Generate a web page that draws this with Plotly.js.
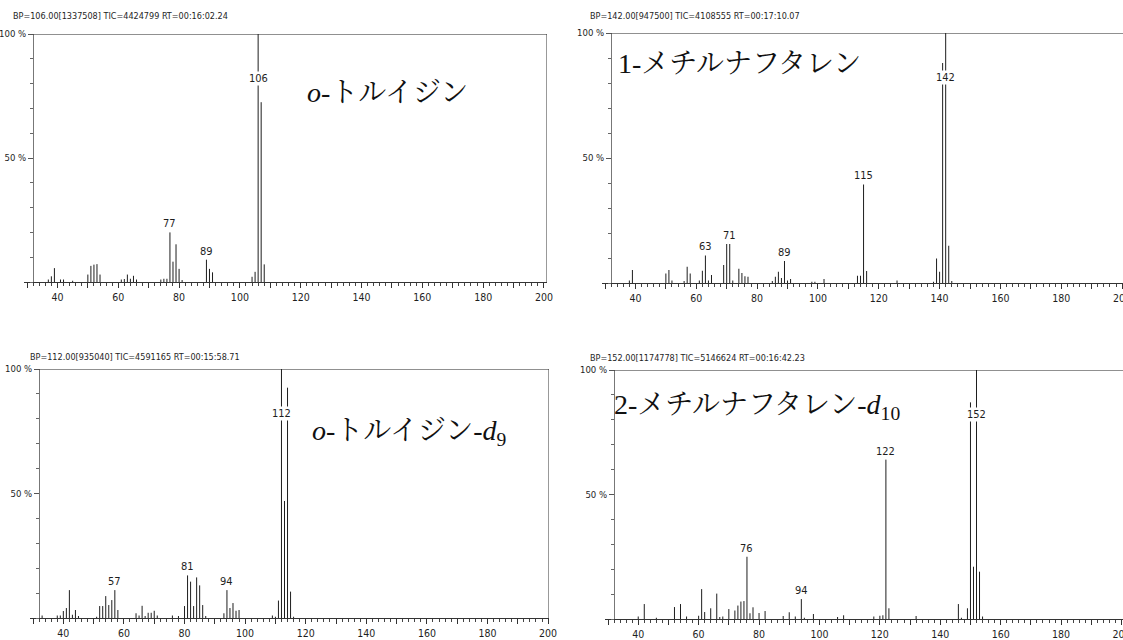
<!DOCTYPE html>
<html>
<head>
<meta charset="utf-8">
<script src="https://cdn.plot.ly/plotly-3.0.1.min.js"></script>
<style>
  html, body { margin: 0; padding: 0; background: #fff; }
  #chart { width: 1123px; height: 640px; }
</style>
</head>
<body>
<div id="chart"></div>
<script>
// ---- Mass spectra (m/z vs. relative intensity, %) ----

// o-toluidine
const mzToluidine  = [37, 38, 39, 41, 42, 45, 50, 51, 52, 53, 54, 61, 62, 63, 64, 65, 66,
                      74, 75, 76, 77, 78, 79, 80, 81, 89, 90, 91, 104, 105, 106, 107, 108];
const intToluidine = [1, 2.3, 5.6, 1, 1, 0.5, 3, 6.5, 7, 7.2, 3, 1, 1.2, 3, 1.3, 2.5, 1,
                      1, 1.3, 1.3, 20, 8.2, 15.2, 5.3, 0.8, 9, 5.3, 3.9, 2.1, 4.1, 100, 72.5, 7.1];
const lblToluidine = [77, 89, 106];
const hdrToluidine = 'BP=106.00[1337508] TIC=4424799 RT=00:16:02.24';
const nameToluidine = '<i>o</i>-トルイジン';

// 1-methylnaphthalene
const mzMethylnaph  = [38, 39, 50, 51, 52, 56, 57, 58, 61, 62, 63, 64, 65, 69, 70, 71, 72,
                       74, 75, 76, 77, 85, 86, 87, 88, 89, 90, 91, 98, 99, 102, 113, 114,
                       115, 116, 126, 138, 139, 140, 141, 142, 143, 144];
const intMethylnaph = [1, 5.2, 3.8, 5.2, 1, 0.8, 6.5, 3.8, 1, 4.9, 11, 1, 3.2, 7.2, 15.6, 15.6, 1,
                       5.7, 4, 2.7, 2.5, 0.8, 2.5, 4.5, 2, 8.8, 1, 1.6, 0.5, 0.5, 1.6, 2.9, 2.9,
                       39.4, 4.8, 1, 0.5, 9.8, 4.5, 88, 100, 14.9, 0.8];
const lblMethylnaph = [63, 71, 89, 115, 142];
const hdrMethylnaph = 'BP=142.00[947500] TIC=4108555 RT=00:17:10.07';
const nameMethylnaph = '1-メチルナフタレン';

// o-toluidine-d9
const mzToluidineD9  = [33, 38, 39, 40, 41, 42, 43, 44, 45, 51, 52, 53, 54, 55, 56, 57, 58,
                        64, 65, 66, 67, 68, 69, 70, 71, 76, 78, 80, 81, 82, 83, 84, 85, 86, 87,
                        93, 94, 95, 96, 97, 98, 109, 110, 111, 112, 113, 114, 115, 116];
const intToluidineD9 = [1, 1, 1, 2.8, 4, 11.2, 1.3, 3.2, 0.8, 0.5, 4.8, 4.8, 8.8, 5.2, 7.2, 11.2, 3.2,
                        1.9, 1, 4.9, 0.8, 2.1, 2.1, 2.9, 1, 1, 0.8, 4.8, 17.1, 14.6, 4.8, 16.3, 13.1, 5.2, 0.8,
                        1.9, 11.2, 4, 6, 2.9, 3.2, 1, 0.5, 7, 100, 47, 92.5, 10.6, 0.5];
const lblToluidineD9 = [57, 81, 94, 112];
const hdrToluidineD9 = 'BP=112.00[935040] TIC=4591165 RT=00:15:58.71';
const nameToluidineD9 = '<i>o</i>-トルイジン-<i>d</i><sub>9</sub>';

// 2-methylnaphthalene-d10
const mzMethylnaphD10  = [40, 42, 46, 52, 54, 56, 60, 61, 62, 64, 66, 67, 68, 70, 72, 73, 74, 75,
                          76, 77, 78, 80, 82, 88, 90, 92, 94, 95, 98, 106, 108, 118, 120, 121,
                          122, 123, 132, 146, 147, 149, 150, 151, 152, 153, 154];
const intMethylnaphD10 = [1, 6, 0.5, 4.8, 6, 1, 1.3, 12, 2.8, 4.3, 10.2, 0.8, 1, 4, 3.4, 5.4, 7, 7.2,
                          25, 2.3, 4.7, 2.4, 3.2, 1.2, 2.7, 1, 8, 0.5, 2, 0.8, 1.5, 1, 1.3, 1.5,
                          64, 4.3, 1.2, 6, 0.5, 4.3, 87, 21, 100, 19, 1];
const lblMethylnaphD10 = [76, 94, 122, 152];
const hdrMethylnaphD10 = 'BP=152.00[1174778] TIC=5146624 RT=00:16:42.23';
const nameMethylnaphD10 = '2-メチルナフタレン-<i>d</i><sub>10</sub>';

// x ticks (m/z): every 10, labelled every 20
const xTickVals = [30, 40, 50, 60, 70, 80, 90, 100, 110, 120, 130, 140, 150, 160, 170, 180, 190, 200];
const xTickText = ['', '40', '', '60', '', '80', '', '100', '', '120', '', '140', '', '160', '', '180', '', '200'];
// y ticks (%)
const yTickVals = [50, 100];
const yTickText = ['50 %', '100 %'];

// ---- Page geometry (pixels) ----
const W = 1123, H = 640;
const px = v => v / W;
const py = v => 1 - v / H;

const NARROW = '"Liberation Sans Narrow", "DejaVu Sans Condensed", "Arial Narrow", sans-serif';
const TITLE_FONT = '"Liberation Serif", "Noto Serif CJK JP", "Noto Sans CJK JP", serif';
const INK = '#1e1e1e';
const AXIS_MZ = 32;          // m/z where the intensity axis sits
const BASE_LABEL_LEVEL = 82; // height (%) for the base-peak label

const spectra = [
  { mz: mzToluidine, inten: intToluidine, lbl: lblToluidine, hdr: hdrToluidine, name: nameToluidine,
    xpx: [24, 547], ypx: [34, 282], range: [29, 201], rightFrame: true,
    hdrPos: [11, 16], namePos: [305, 92] },
  { mz: mzMethylnaph, inten: intMethylnaph, lbl: lblMethylnaph, hdr: hdrMethylnaph, name: nameMethylnaph,
    xpx: [602, 1123], ypx: [33, 283], range: [29, 200.3], rightFrame: false,
    hdrPos: [588, 16], namePos: [616, 64] },
  { mz: mzToluidineD9, inten: intToluidineD9, lbl: lblToluidineD9, hdr: hdrToluidineD9, name: nameToluidineD9,
    xpx: [30, 549], ypx: [369, 618], range: [29, 200.3], rightFrame: true,
    hdrPos: [28, 357], namePos: [310, 432] },
  { mz: mzMethylnaphD10, inten: intMethylnaphD10, lbl: lblMethylnaphD10, hdr: hdrMethylnaphD10, name: nameMethylnaphD10,
    xpx: [605, 1123], ypx: [370, 619], range: [29, 200.5], rightFrame: false,
    hdrPos: [588, 358], namePos: [612, 406] }
];

const traces = [];
const layout = {
  width: W, height: H,
  margin: { l: 0, r: 0, t: 0, b: 0 },
  paper_bgcolor: '#fff', plot_bgcolor: '#fff',
  showlegend: false,
  annotations: [], shapes: []
};

spectra.forEach((s, i) => {
  const n = i + 1;
  const xa = 'x' + (n === 1 ? '' : n), ya = 'y' + (n === 1 ? '' : n);
  const xKey = 'xaxis' + (n === 1 ? '' : n), yKey = 'yaxis' + (n === 1 ? '' : n);

  // stick spectrum: one vertical segment per m/z
  const xs = [], ys = [];
  s.mz.forEach((m, k) => { xs.push(m, m, null); ys.push(0, s.inten[k], null); });
  traces.push({
    type: 'scatter', mode: 'lines', x: xs, y: ys, xaxis: xa, yaxis: ya,
    line: { color: INK, width: 1 }, hoverinfo: 'skip', cliponaxis: false
  });

  const xd = [px(s.xpx[0]), px(s.xpx[1])];
  const yd = [py(s.ypx[1]), py(s.ypx[0])];
  const axisPos = xd[0] + (AXIS_MZ - s.range[0]) / (s.range[1] - s.range[0]) * (xd[1] - xd[0]);

  layout[xKey] = {
    domain: xd, range: s.range, anchor: ya, fixedrange: true,
    showgrid: false, zeroline: false, showline: true, linecolor: '#333', linewidth: 1,
    tickmode: 'array', tickvals: xTickVals, ticktext: xTickText,
    ticks: 'outside', ticklen: 5, tickcolor: '#333', tickwidth: 1,
    ticklabeloverflow: 'allow',
    minor: { tickmode: 'linear', tick0: 0, dtick: 2, ticks: 'outside', ticklen: 3, tickcolor: '#444', tickwidth: 1 },
    tickfont: { family: NARROW, size: 10.5, color: INK }
  };
  layout[yKey] = {
    domain: yd, range: [0, 100], anchor: 'free', position: axisPos, fixedrange: true,
    showgrid: false, zeroline: false, showline: true, linecolor: '#777', linewidth: 1,
    tickmode: 'array', tickvals: yTickVals, ticktext: yTickText,
    ticks: 'outside', ticklen: 5, tickcolor: '#555', tickwidth: 1,
    minor: { tickmode: 'linear', tick0: 0, dtick: 10, ticks: 'outside', ticklen: 3, tickcolor: '#666', tickwidth: 1 },
    tickfont: { family: NARROW, size: 9.5, color: INK }
  };

  // frame: top edge and (when inside the page) right edge
  layout.shapes.push({
    type: 'line', xref: xa, yref: ya, x0: AXIS_MZ, x1: s.range[1], y0: 100, y1: 100,
    line: { color: '#222', width: 1 }
  });
  if (s.rightFrame) {
    layout.shapes.push({
      type: 'line', xref: xa, yref: ya, x0: s.range[1], x1: s.range[1], y0: 0, y1: 100,
      line: { color: '#333', width: 1 }
    });
  }

  // peak labels
  s.lbl.forEach(m => {
    const h = s.inten[s.mz.indexOf(m)];
    const isBase = h >= 100;
    layout.annotations.push({
      xref: xa, yref: ya, x: m, y: isBase ? BASE_LABEL_LEVEL : h,
      yanchor: isBase ? 'middle' : 'bottom', yshift: isBase ? 0 : 1,
      text: String(m), showarrow: false,
      bgcolor: isBase ? '#fff' : 'rgba(0,0,0,0)', borderpad: 0,
      font: { family: NARROW, size: 11, color: INK }
    });
  });

  // acquisition header
  layout.annotations.push({
    xref: 'paper', yref: 'paper', x: px(s.hdrPos[0]), y: py(s.hdrPos[1]),
    xanchor: 'left', yanchor: 'middle', showarrow: false, text: s.hdr,
    font: { family: NARROW, size: 9, color: INK }
  });

  // compound name
  layout.annotations.push({
    xref: 'paper', yref: 'paper', x: px(s.namePos[0]), y: py(s.namePos[1]),
    xanchor: 'left', yanchor: 'middle', showarrow: false, text: s.name,
    font: { family: TITLE_FONT, size: 28, color: '#111' }
  });
});

Plotly.newPlot('chart', traces, layout, { staticPlot: true, displayModeBar: false });
</script>
</body>
</html>
